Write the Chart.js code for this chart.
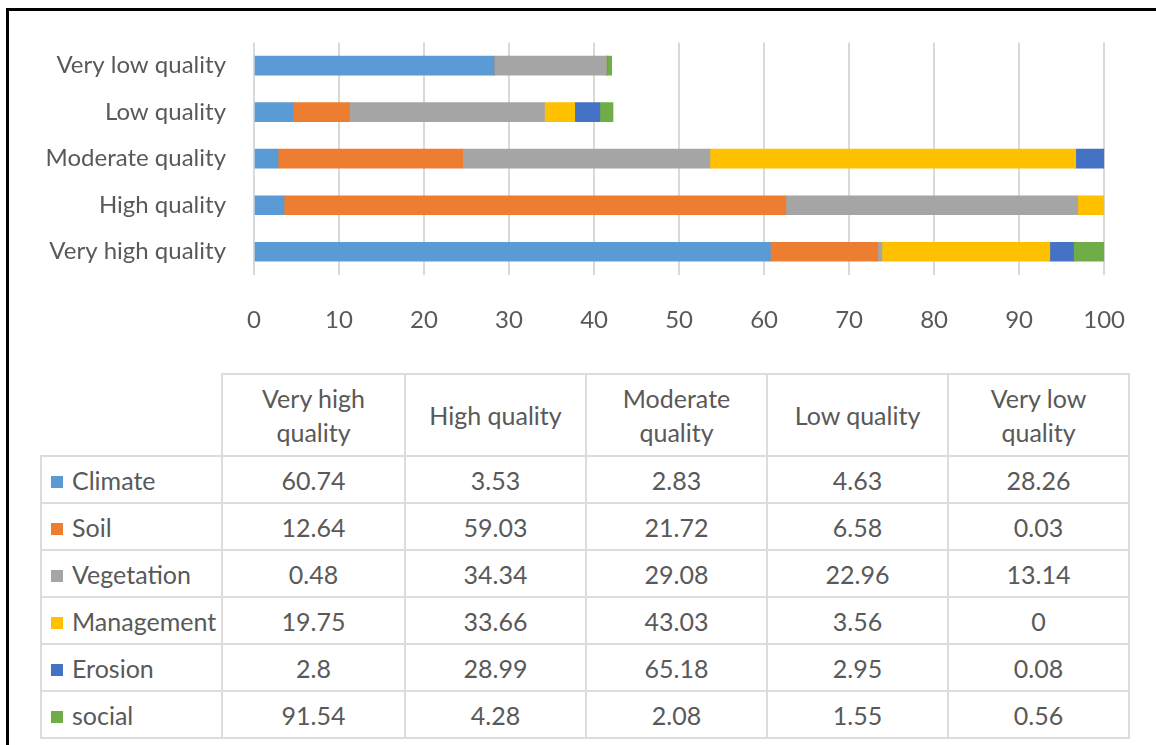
<!DOCTYPE html>
<html>
<head>
<meta charset="utf-8">
<script src="https://cdn.jsdelivr.net/npm/chart.js@4.4.1/dist/chart.umd.min.js"></script>
<style>
    body { margin: 0; background: #ffffff; font-family: Lato, "Open Sans", sans-serif; }
    #page { position: relative; width: 1156px; height: 745px; overflow: hidden; background: #ffffff; }
    #frame { position: absolute; left: 6px; top: 8px; width: 1200px; height: 800px; border-top: 3px solid #000; border-left: 3px solid #000; }
    #chartbox { position: absolute; left: 0; top: 0; width: 1156px; height: 360px; }
    #datatable { position: absolute; left: 40px; top: 373px; border-collapse: collapse; color: #595959; font-size: 25px; }
    #datatable td, #datatable th { border: 2px solid #dcdcdc; text-align: center; font-weight: normal; padding: 0; }
    #datatable th { height: 80px; line-height: 34px; }
    #datatable td { height: 45px; line-height: 30px; }
    #datatable th.blank { border: none; }
    #datatable td.name { text-align: left; padding-left: 9px; white-space: nowrap; }
    .key { display: inline-block; width: 12px; height: 12px; margin-right: 9px; vertical-align: 2px; }
</style>
</head>
<body>
<div id="page">
    <div id="frame"></div>
    <div id="chartbox"><canvas id="qualitygraph"></canvas></div>
    <table id="datatable"></table>
</div>
<script>
// Quality classes, in the order the data table lists them
var categories = ['Very high quality', 'High quality', 'Moderate quality', 'Low quality', 'Very low quality'];
var headerLines = [['Very high', 'quality'], ['High quality'], ['Moderate', 'quality'], ['Low quality'], ['Very low', 'quality']];

// Series (factors) and their values per class
var seriesNames = ['Climate', 'Soil', 'Vegetation', 'Management', 'Erosion', 'social'];
var climate    = [60.74, 3.53, 2.83, 4.63, 28.26];
var soil       = [12.64, 59.03, 21.72, 6.58, 0.03];
var vegetation = [0.48, 34.34, 29.08, 22.96, 13.14];
var management = [19.75, 33.66, 43.03, 3.56, 0];
var erosion    = [2.8, 28.99, 65.18, 2.95, 0.08];
var social     = [91.54, 4.28, 2.08, 1.55, 0.56];
var seriesValues = [climate, soil, vegetation, management, erosion, social];
var seriesColors = ['#5b9bd5', '#ed7d31', '#a5a5a5', '#ffc000', '#4472c4', '#70ad47'];

var xTicks = [0, 10, 20, 30, 40, 50, 60, 70, 80, 90, 100];

var textColor = '#595959';
var fontFamily = 'Lato, "Open Sans", sans-serif';

/**
 * Builds the stacked bar chart.
 */
function drawChart() {
    var datasets = [];
    for(let i = 0; i < seriesNames.length; i++) {
        datasets.push({
            label: seriesNames[i],
            data: seriesValues[i],
            backgroundColor: seriesColors[i],
            borderWidth: 0,
            barThickness: 19
        });
    }

    new Chart(document.getElementById('qualitygraph'), {
        type: 'bar',
        data: { labels: categories, datasets: datasets },
        options: {
            indexAxis: 'y',
            responsive: true,
            maintainAspectRatio: false,
            animation: false,
            layout: { padding: { top: 42, right: 46, left: 0, bottom: 0 } },
            plugins: { legend: { display: false }, tooltip: { enabled: false } },
            scales: {
                x: {
                    stacked: true,
                    min: 0,
                    max: 100,
                    afterBuildTicks: function(scale) { scale.ticks = xTicks.map(function(v) { return { value: v }; }); },
                    afterFit: function(scale) { scale.height = 85; },
                    grid: { color: '#d9d9d9', lineWidth: 2, drawTicks: false },
                    border: { display: false },
                    ticks: { color: textColor, padding: 31, font: { family: fontFamily, size: 24 } }
                },
                y: {
                    stacked: true,
                    reverse: true,
                    afterFit: function(scale) { scale.width = 254; },
                    grid: { display: false, drawTicks: false },
                    border: { display: false },
                    ticks: { color: textColor, padding: 28, font: { family: fontFamily, size: 24 } }
                }
            }
        }
    });
}

/**
 * Builds the data table under the chart from the same arrays.
 */
function drawTable() {
    var colWidths = [182, 183, 181, 181, 181, 181];
    var html = '<tr><th class="blank" style="width:' + (colWidths[0] - 2) + 'px"></th>';
    for(let j = 0; j < categories.length; j++) {
        html += '<th style="width:' + (colWidths[j + 1] - 2) + 'px">' + headerLines[j].join('<br>') + '</th>';
    }
    html += '</tr>';
    for(let i = 0; i < seriesNames.length; i++) {
        html += '<tr><td class="name"><span class="key" style="background:' + seriesColors[i] + '"></span>' + seriesNames[i] + '</td>';
        for(let j = 0; j < categories.length; j++) {
            html += '<td>' + seriesValues[i][j] + '</td>';
        }
        html += '</tr>';
    }
    document.getElementById('datatable').innerHTML = html;
}

drawTable();
drawChart();
</script>
</body>
</html>
